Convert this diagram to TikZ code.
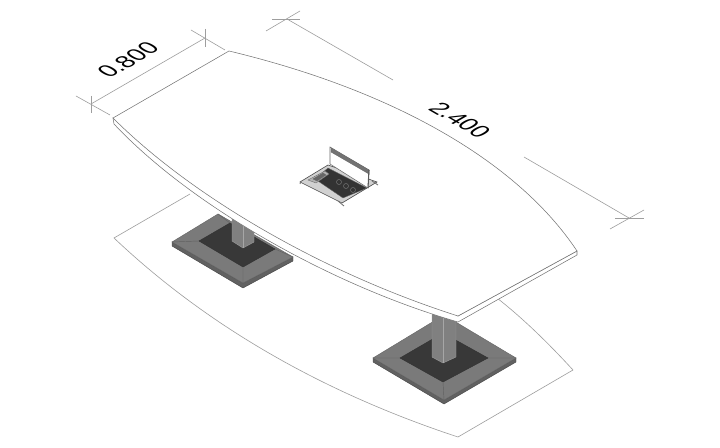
\documentclass[tikz,border=0pt]{standalone}
\usepackage{fontspec}
\setmainfont{Liberation Sans}
\tikzset{
	dimline/.style={draw=black!38, line width=0.35pt},
	edgeline/.style={draw=black!55, line width=0.3pt},
	rimface/.style={fill=black!62, draw=black!72, line width=0.25pt},
	bevelface/.style={fill=black!52, draw=black!60, line width=0.25pt},
	padface/.style={fill=black!78, draw=black!80, line width=0.25pt},
	postface/.style={fill=black!50, draw=black!40, line width=0.25pt},
	dimlabel/.style={font=\fontsize{13.5}{13.5}\selectfont, inner sep=0pt, transform shape},
	grommetline/.style={draw=black!60, line width=0.2pt}
}
\begin{document}
\begin{tikzpicture}[x=0.02cm, y=-0.02cm]
	\useasboundingbox (0,0) rectangle (720,448);

	% floor outline
	\coordinate (fa) at (114,238);
	\coordinate (fb) at (458,437);
	\coordinate (fc) at (573,370);
	\coordinate (fd) at (497,298);
	\coordinate (fe) at (190,194);
	\draw [dimline] (fe) -- (fa) .. controls (190,310) and (300,385) .. (fb) -- (fc) .. controls (550,345) and (525,320) .. (fd);

	% left base
	\coordinate (la) at (172,242);
	\coordinate (lb) at (218,214);
	\coordinate (lc) at (293,257);
	\coordinate (ld) at (243,283);
	\coordinate (le) at (199,241);
	\coordinate (lf) at (230,223);
	\coordinate (lg) at (275,249);
	\coordinate (lh) at (243,267);
	\draw [rimface] (la) -- (ld) -- (lc) -- ++(0,4) -- (243,288) -- (172,246) -- cycle;
	\draw [bevelface] (la) -- (lb) -- (lc) -- (ld) -- cycle;
	\draw [black!62, line width=0.25pt] (la) -- (le) (lb) -- (lf) (lc) -- (lg) (ld) -- (lh);
	\draw [padface] (le) -- (lf) -- (lg) -- (lh) -- cycle;
	\draw [postface] (232,215) -- (232,241) -- (243,248) -- (254,242) -- (254,215) -- cycle;
	\draw [black!35, line width=0.25pt] (243,215) -- (243,248);

	% right base
	\coordinate (ra) at (373,358);
	\coordinate (rb) at (444,315);
	\coordinate (rc) at (516,358);
	\coordinate (rd) at (444,400);
	\coordinate (re) at (400,358);
	\coordinate (rf) at (443,333);
	\coordinate (rg) at (488,358);
	\coordinate (rh) at (443,382);
	\draw [rimface] (ra) -- (rd) -- (rc) -- ++(0,4) -- (444,404) -- (373,362) -- cycle;
	\draw [bevelface] (ra) -- (rb) -- (rc) -- (rd) -- cycle;
	\draw [black!62, line width=0.25pt] (ra) -- (re) (rb) -- (rf) (rc) -- (rg) (rd) -- (rh);
	\draw [padface] (re) -- (rf) -- (rg) -- (rh) -- cycle;
	\draw [postface] (432,305) -- (432,357) -- (443,363) -- (456,357) -- (456,305) -- cycle;
	\draw [black!35, line width=0.25pt] (443,305) -- (443,363);

	% table top
	\coordinate (a) at (229,51);
	\coordinate (b) at (113,118);
	\coordinate (c) at (458,316);
	\coordinate (d) at (577,251);
	\draw [edgeline, fill=white] (b) -- ++(1,6) .. controls (190,205) and (330,285) .. (458,322) -- (577,255) -- (d) -- (c) -- cycle;
	\draw [edgeline, fill=white] (a) -- (b) .. controls (190,195) and (320,272) .. (c) -- (d) .. controls (520,165) and (400,92) .. (a) -- cycle;

	% grommet
	\coordinate (ga) at (300,182);
	\coordinate (gb) at (328,165);
	\coordinate (gc) at (377,182);
	\coordinate (gd) at (342,203);
	\draw [fill=black!18, draw=black!70, line width=0.35pt] (ga) -- (gb) -- (gc) -- (gd) -- cycle;
	\draw [fill=black!80, grommetline] (315,179) -- (328,168) -- (367,188) -- (343,198) -- cycle;
	\draw [fill=black!30, grommetline] (308,180) -- (325,171) -- (329,174) -- (316,183) -- cycle;
	\draw [fill=black!60, grommetline] (313,179) -- (323,173) -- (326,175) -- (317,181) -- cycle;
	\foreach \gx/\gy in {339/182, 346/186, 353/190} {
		\draw [black!55, line width=0.3pt] (\gx,\gy) circle (2.5);
	}
	\draw [fill=white, draw=black!60, line width=0.3pt] (330,147) -- (369,170) -- (368,188) -- (330,164) -- cycle;
	\draw [fill=black!55, grommetline] (331,148) -- (369,170) -- (369,174) -- (331,152) -- cycle;
	\draw [black!65, line width=0.6pt] (369,170) -- (368,188);
	\draw [black!55, line width=0.5pt] (301,181) -- ++(-1,3) (338,201) -- (344,206) (372,181) -- (378,185);

	% dimension 0.800
	\coordinate (sa) at (91,104);
	\coordinate (sb) at (205,38);
	\draw [dimline] (sa) -- (sb);
	\draw [dimline] (76,96) -- (110,115);
	\draw [dimline] (91,96) -- (91,113);
	\draw [dimline] (191,30) -- (225,50);
	\draw [dimline] (205,29) -- (205,47);
	\node [dimlabel, cm={0.866,0.5,-0.866,0.5,(0,0)}] (width) at (128,60) {0.800};

	% dimension 2.400
	\coordinate (ta) at (287,19);
	\coordinate (tb) at (393,80);
	\coordinate (tc) at (524,157);
	\coordinate (td) at (629,218);
	\draw [dimline] (ta) -- (tb);
	\draw [dimline] (tc) -- (td);
	\draw [dimline] (266,31) -- (300,11);
	\draw [dimline] (272,19) -- (300,19);
	\draw [dimline] (610,229) -- (644,210);
	\draw [dimline] (615,218) -- (644,218);
	\node [dimlabel, cm={0.866,-0.5,0.866,0.5,(0,0)}] (length) at (460,120) {2.400};
\end{tikzpicture}
\end{document}
